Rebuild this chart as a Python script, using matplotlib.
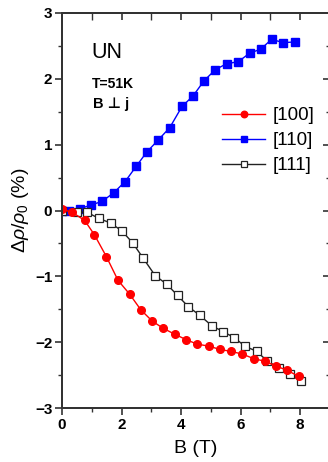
import matplotlib
matplotlib.use("Agg")
import matplotlib.pyplot as plt
from matplotlib.ticker import MultipleLocator

plt.rcParams['font.family'] = ['Liberation Sans', 'DejaVu Sans']
plt.rcParams['mathtext.fontset'] = 'custom'
plt.rcParams['mathtext.rm'] = 'Liberation Sans'
plt.rcParams['mathtext.it'] = 'Liberation Sans:italic'
plt.rcParams['mathtext.bf'] = 'Liberation Sans:bold'

# [100] series
b_100 = [0, 0.35, 0.76, 1.09, 1.49, 1.88, 2.27, 2.65, 3.03, 3.40, 3.79, 4.16, 4.54, 4.93, 5.30, 5.67, 6.05, 6.44, 6.81, 7.18, 7.57, 7.95]
r_100 = [0.02, -0.03, -0.15, -0.37, -0.70, -1.06, -1.27, -1.51, -1.68, -1.79, -1.88, -1.96, -2.03, -2.06, -2.11, -2.14, -2.18, -2.25, -2.29, -2.36, -2.43, -2.52]
# [110] series
b_110 = [0, 0.23, 0.61, 0.96, 1.35, 1.74, 2.12, 2.49, 2.85, 3.23, 3.62, 4.03, 4.40, 4.77, 5.15, 5.53, 5.92, 6.30, 6.67, 7.04, 7.43, 7.82]
r_110 = [0, 0, 0.03, 0.08, 0.14, 0.27, 0.44, 0.67, 0.89, 1.07, 1.26, 1.58, 1.74, 1.97, 2.14, 2.23, 2.26, 2.39, 2.45, 2.60, 2.55, 2.56]
# [111] series
b_111 = [0, 0.49, 0.85, 1.24, 1.63, 2.01, 2.37, 2.72, 3.13, 3.52, 3.88, 4.24, 4.62, 5.03, 5.41, 5.78, 6.14, 6.54, 6.90, 7.29, 7.66, 8.02]
r_111 = [0, -0.02, -0.03, -0.12, -0.19, -0.31, -0.49, -0.72, -0.99, -1.12, -1.29, -1.46, -1.59, -1.75, -1.84, -1.93, -2.06, -2.14, -2.29, -2.39, -2.49, -2.59]

labels = ['[100]', '[110]', '[111]']
xticks = [0, 2, 4, 6, 8]
yticks = [-3, -2, -1, 0, 1, 2, 3]

W, H = 328, 462
fig = plt.figure(figsize=(W / 100, H / 100), dpi=100)
ax = fig.add_axes([62 / W, 54 / H, 268 / W, 395 / H])

ax.plot(b_100, r_100, color='#ff0000', lw=1.0, marker='o', ms=5.5, mec='#ff0000', mfc='#ff0000', label=labels[0], zorder=3)
ax.plot(b_110, r_110, color='#0000ff', lw=1.0, marker='s', ms=5.5, mec='#0000ff', mfc='#0000ff', label=labels[1], zorder=2)
ax.plot(b_111, r_111, color='#222222', lw=1.0, marker='s', ms=5.5, mec='#222222', mfc='white', mew=0.9, label=labels[2], zorder=2)

ax.set_xlim(0, 9)
ax.set_ylim(-3, 3)
ax.set_xticks(xticks)
ax.set_yticks(yticks)
ax.xaxis.set_minor_locator(MultipleLocator(1))
ax.yaxis.set_minor_locator(MultipleLocator(0.5))

for s in ax.spines.values():
    s.set_linewidth(1.3)
    s.set_color('#333333')

ax.tick_params(axis='both', which='major', direction='out', length=5, width=1.2, color='#333333',
               labelsize=11, pad=2)
ax.tick_params(axis='both', which='minor', direction='out', length=3, width=1.0, color='#333333')
for t in ax.get_xticklabels() + ax.get_yticklabels():
    t.set_fontweight('bold')

# top and right ticks pointing inward
axt = ax.twiny()
axt.set_xlim(ax.get_xlim())
axt.set_xticks(xticks)
axt.xaxis.set_minor_locator(MultipleLocator(1))
axt.tick_params(axis='x', which='major', direction='in', length=5, width=1.2, color='#333333', labeltop=False)
axt.tick_params(axis='x', which='minor', direction='in', length=5, width=1.0, color='#333333')
axr = ax.twinx()
axr.set_ylim(ax.get_ylim())
axr.set_yticks(yticks)
axr.yaxis.set_minor_locator(MultipleLocator(0.5))
axr.tick_params(axis='y', which='major', direction='in', length=5, width=1.2, color='#333333', labelright=False)
axr.tick_params(axis='y', which='minor', direction='in', length=3, width=1.0, color='#333333')
for a in (axt, axr):
    for s in a.spines.values():
        s.set_linewidth(1.3)
        s.set_color('#333333')

ax.set_xlabel('B (T)', fontsize=14, labelpad=6)
ax.set_ylabel(r'$\Delta\rho/\rho_0$ (%)', fontsize=14, labelpad=3)

ax.text(1.0, 2.32, 'UN', fontsize=15.5, va='baseline', ha='left')
ax.text(1.0, 1.86, 'T=51K', fontsize=10, fontweight='bold', va='baseline', ha='left')
ax.text(1.05, 1.56, 'B \u22a5 j', fontsize=10.5, fontweight='bold', va='baseline', ha='left')

leg = ax.legend(loc='upper left', bbox_to_anchor=(222 / W, 1 - 107 / H), bbox_transform=fig.transFigure,
                frameon=False, fontsize=13.5, handlelength=2.3, handletextpad=0.4,
                labelspacing=0.42, borderpad=0, borderaxespad=0, markerscale=0.85)

fig.savefig('out.png', dpi=100)
